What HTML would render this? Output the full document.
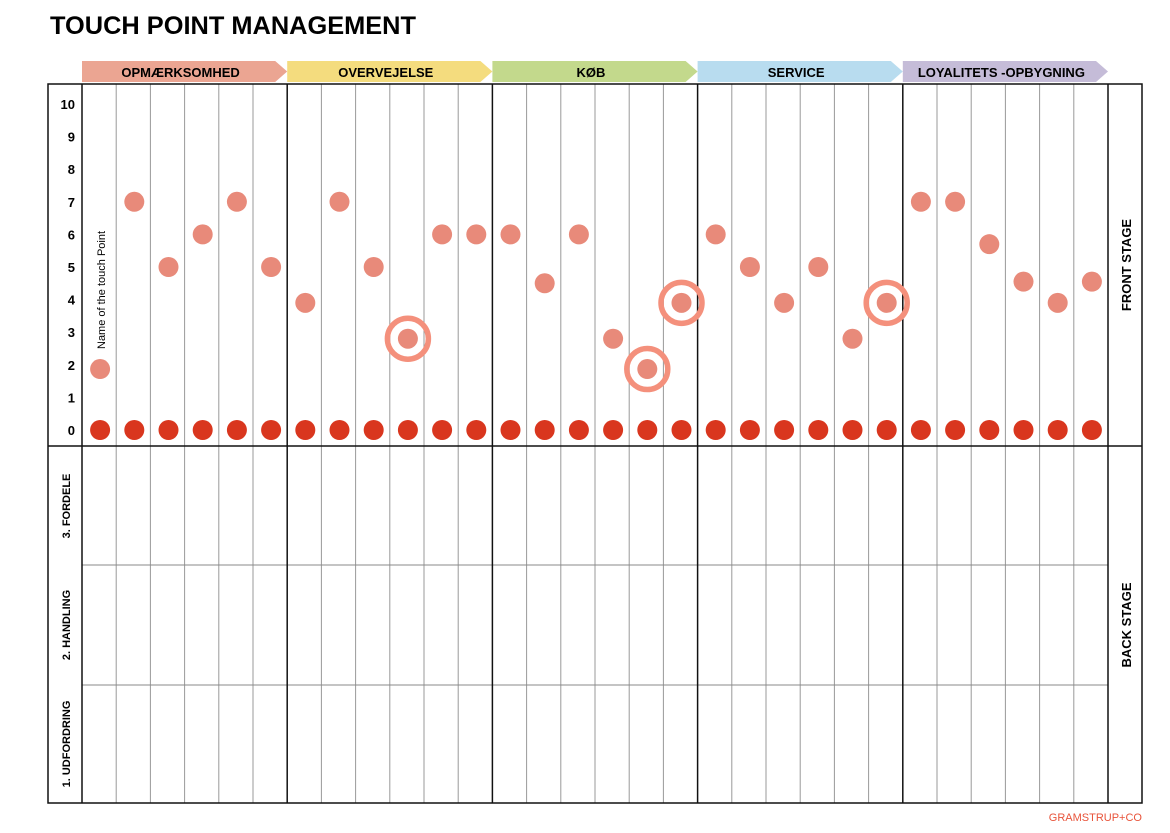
<!DOCTYPE html>
<html><head><meta charset="utf-8"><style>
body{margin:0;background:#fff;width:1170px;height:828px;overflow:hidden;font-family:"Liberation Sans",sans-serif}
</style></head><body>
<svg id="c" width="1170" height="828" xmlns="http://www.w3.org/2000/svg">
<text x="50" y="34" font-size="25" font-weight="bold" font-family="Liberation Sans,sans-serif" textLength="366" lengthAdjust="spacingAndGlyphs">TOUCH POINT MANAGEMENT</text>
<text x="1142" y="821" font-size="11" fill="#e8533a" text-anchor="end">GRAMSTRUP+CO</text>
<g id="g"></g>
</svg>
<script>
const phases=["OPMÆRKSOMHED","OVERVEJELSE","KØB","SERVICE","LOYALITETS -OPBYGNING"];
const phaseColors=["#eba592","#f4dc7e","#c3d98c","#b8dcef","#c5bcd8"];
const values=[1.87,7,5,6,7,5, 3.9,7,5,2.8,6,6, 6,4.5,6,2.8,1.87,3.9, 6,5,3.9,5,2.8,3.9, 7,7,5.7,4.55,3.9,4.55];
const ringed=[9,16,17,23];
const yTicks=[0,1,2,3,4,5,6,7,8,9,10];
const backRows=["3. FORDELE","2. HANDLING","1. UDFORDRING"];
const NS="http://www.w3.org/2000/svg",g=document.getElementById('g');
const X0=82,X1=1108,colW=(X1-X0)/30,T=84,FB=446,B=803;
const xs=i=>X0+colW*(i+0.5)+1;
const ys=v=>430-v*32.6;
function mk(t,a){const e=document.createElementNS(NS,t);for(const k in a)e.setAttribute(k,a[k]);g.appendChild(e);return e;}
phases.forEach((p,i)=>{const x=X0+i*colW*6,w=colW*6;
const e=mk('polygon',{points:`${x},61 ${x+w-12},61 ${x+w},71.5 ${x+w-12},82 ${x},82`,fill:phaseColors[i]});


const t=mk('text',{x:x+w/2-4,y:77,'text-anchor':'middle','font-size':13,'font-weight':'bold'});t.textContent=p;

});
for(let i=1;i<30;i++){if(i%6)mk('line',{x1:X0+i*colW,y1:T,x2:X0+i*colW,y2:B,stroke:'#999','stroke-width':1});}
[565,685].forEach(y=>mk('line',{x1:X0,y1:y,x2:X1,y2:y,stroke:'#888','stroke-width':1}));
for(let i=0;i<=5;i++){const x=X0+i*colW*6;mk('line',{x1:x,y1:T,x2:x,y2:B,stroke:'#111','stroke-width':1.5});}
mk('rect',{x:48,y:T,width:1094,height:B-T,fill:'none',stroke:'#111','stroke-width':1.5});
mk('line',{x1:48,y1:FB,x2:1142,y2:FB,stroke:'#111','stroke-width':1.5});
yTicks.forEach(v=>{const t=mk('text',{x:75,y:ys(v)+5,'text-anchor':'end','font-size':13,'font-weight':'bold'});t.textContent=v;

});
backRows.forEach((r,i)=>{const cy=[506,625,744][i];const t=mk('text',{x:0,y:0,transform:`translate(70,${cy}) rotate(-90)`,'text-anchor':'middle','font-size':11,'font-weight':'bold'});t.textContent=r;

});
[["FRONT STAGE",265],["BACK STAGE",625]].forEach(([s,cy])=>{const t=mk('text',{x:0,y:0,transform:`translate(1131,${cy}) rotate(-90)`,'text-anchor':'middle','font-size':13,'font-weight':'bold'});t.textContent=s;

});
const nt=mk('text',{x:0,y:0,transform:'translate(105,290) rotate(-90)','text-anchor':'middle','font-size':11});nt.textContent='Name of the touch Point';


values.forEach((v,i)=>{
const b=mk('circle',{cx:xs(i),cy:ys(0),r:10,fill:'#d9361e'});


if(ringed.includes(i)){const r=mk('circle',{cx:xs(i),cy:ys(v),r:20.5,fill:'none',stroke:'#f4907c','stroke-width':5.5});

}
const d=mk('circle',{cx:xs(i),cy:ys(v),r:10,fill:'#e88a7a'});


});
</script>
</body></html>
